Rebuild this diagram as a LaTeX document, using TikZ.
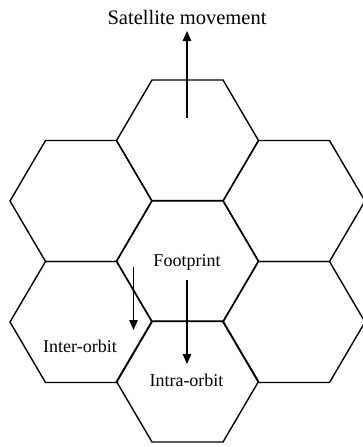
\documentclass[tikz,border=0pt]{standalone}
\usepackage{fontspec}
\setmainfont{Liberation Serif}
\usetikzlibrary{arrows.meta,calc}
\begin{document}
\begin{tikzpicture}[x=1pt,y=-1pt,
  hexline/.style={line width=1.4pt,line join=miter},
  movearrow/.style={line width=1.3pt,-{Triangle[length=10pt,width=8.5pt]}},
  lbl/.style={font=\fontsize{18}{20}\selectfont,anchor=base,inner sep=0pt},
  ttl/.style={font=\fontsize{20.5}{22}\selectfont,anchor=base,inner sep=0pt}]
\useasboundingbox (0,0) rectangle (363,447);
\clip (0,0) rectangle (363,447);
% hexagon centres
\foreach \n/\cx/\cy in {top/187.5/140.5, mid/187.5/261, bot/187.5/381.5,
                        lu/81/201, ll/81/322, ru/294/201, rl/294/322}{
  \coordinate (\n) at (\cx,\cy);
  \draw[hexline] ($(\n)+(-71,0)$) -- ($(\n)+(-35.5,-60.5)$) -- ($(\n)+(35.5,-60.5)$)
     -- ($(\n)+(71,0)$) -- ($(\n)+(35.5,60.5)$) -- ($(\n)+(-35.5,60.5)$) -- cycle;
}
% labels
\node[ttl] (title) at (187,24) {Satellite movement};
\node[lbl] (foot) at (187,266) {Footprint};
\node[lbl] (inter) at (80,352.7) {Inter-orbit};
\node[lbl] (intra) at (186.5,386) {Intra-orbit};
% arrows
\coordinate (s1) at (187,118);
\coordinate (s2) at (187,31);
\coordinate (e1) at (133.5,266.5);
\coordinate (e2) at (133.5,330);
\coordinate (a1) at (187,280);
\coordinate (a2) at (187,364);
\draw[movearrow] (s1) -- (s2);
\draw[movearrow] (e1) -- (e2);
\draw[movearrow] (a1) -- (a2);
\end{tikzpicture}
\end{document}
